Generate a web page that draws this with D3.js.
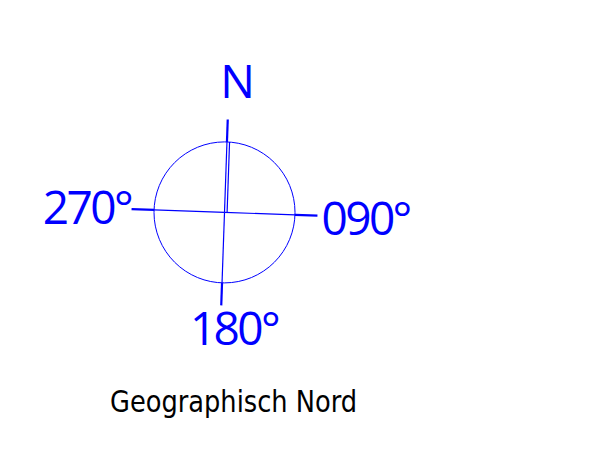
<!DOCTYPE html>
<html>
<head>
<meta charset="utf-8">
<script src="https://cdn.jsdelivr.net/npm/d3@7"></script>
<style>
  html, body { margin: 0; padding: 0; background: #fff; }
  svg { display: block; }
</style>
</head>
<body>
<script>
// Data
const directions = ["N", "090°", "180°", "270°"];
const bearings = [0, 90, 180, 270];     // degrees
const caption = "Geographisch Nord";
const rotationDeg = 2;                  // slight clockwise tilt of the cross

const W = 605, H = 453;
const cx = 224.5, cy = 212.4, R = 70.5, arm = 93;
const blue = "#0000ff";

const svg = d3.select("body").append("svg").attr("width", W).attr("height", H);

// polar scale: bearing -> screen angle (radians), 0 = up, clockwise
const ang = d3.scaleLinear().domain([0, 360]).range([0, 2 * Math.PI]);
const rot = ang(rotationDeg);
const pt = (b, r) => {
  const a = ang(b) + rot;
  return [cx + r * Math.sin(a), cy - r * Math.cos(a)];
};

const g = svg.append("g");

// circle
g.append("circle").attr("cx", cx).attr("cy", cy).attr("r", R)
  .attr("fill", "none").attr("stroke", blue).attr("stroke-width", 1);

// inner thin lines (center to circle)
g.selectAll("line.inner").data(bearings).join("line").attr("class", "inner")
  .attr("x1", cx).attr("y1", cy)
  .attr("x2", d => pt(d, R)[0]).attr("y2", d => pt(d, R)[1])
  .attr("stroke", blue).attr("stroke-width", 1.2);

// second thin north line (double line in upper half)
g.append("line")
  .attr("x1", cx + 2.6).attr("y1", cy)
  .attr("x2", pt(0, R)[0] + 2.6).attr("y2", pt(0, R)[1])
  .attr("stroke", blue).attr("stroke-width", 1.2);

// outer thick ticks (circle to arm end)
g.selectAll("line.outer").data(bearings).join("line").attr("class", "outer")
  .attr("x1", d => pt(d, R)[0]).attr("y1", d => pt(d, R)[1])
  .attr("x2", d => pt(d, arm)[0]).attr("y2", d => pt(d, arm)[1])
  .attr("stroke", blue).attr("stroke-width", 2.2);

// labels
const labelPos = {
  0:   { dx: 13,    dy: -114.4, anchor: "middle" },
  90:  { dx: 97,    dy: 22.6,   anchor: "start" },
  180: { dx: 9.5,   dy: 132.6,  anchor: "middle" },
  270: { dx: -93.5, dy: 11.9,   anchor: "end" }
};
g.selectAll("text.dir").data(bearings).join("text").attr("class", "dir")
  .attr("x", d => cx + labelPos[d].dx)
  .attr("y", d => cy + labelPos[d].dy)
  .attr("text-anchor", d => labelPos[d].anchor)
  .attr("font-family", "'Open Sans', 'Noto Sans', sans-serif")
  .attr("font-size", 46)
  .attr("letter-spacing", d => d === 0 ? 0 : -2.6)
  .attr("fill", blue)
  .text((d, i) => directions[i]);

// caption
svg.append("text")
  .attr("x", 110).attr("y", 412)
  .attr("font-family", "'DejaVu Sans Condensed', 'Liberation Sans Narrow', sans-serif")
  .attr("font-size", 29.5)
  .attr("textLength", 247).attr("lengthAdjust", "spacingAndGlyphs")
  .attr("fill", "#000")
  .text(caption);
</script>
</body>
</html>
